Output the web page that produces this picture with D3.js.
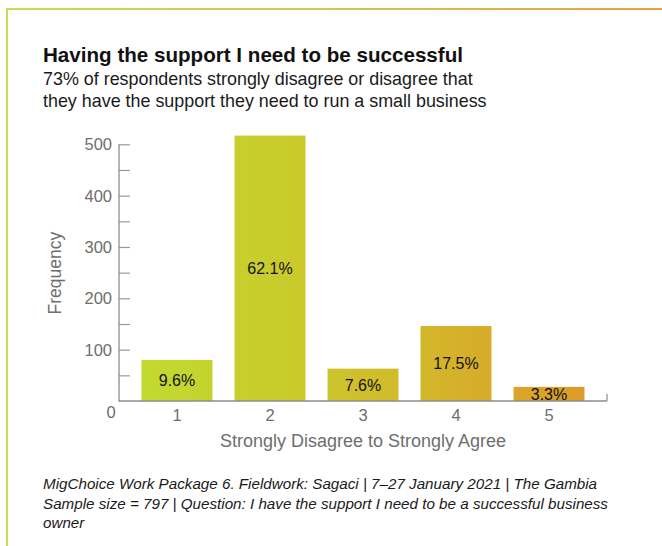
<!DOCTYPE html>
<html>
<head>
<meta charset="utf-8">
<script src="https://cdn.jsdelivr.net/npm/d3@7/dist/d3.min.js"></script>
<style>
  html, body { margin: 0; padding: 0; background: #fff; }
  svg { display: block; font-family: "Liberation Sans", Arial, Helvetica, sans-serif; }
</style>
</head>
<body>
<svg id="chart" width="662" height="546"></svg>
<script>
// Response scale (1 = strongly disagree ... 5 = strongly agree)
const categories = ["1", "2", "3", "4", "5"];
// Number of respondents per response
const frequencies = [80, 517, 63, 146, 27.5];
// Share of respondents per response, as printed on the bars
const shareLabels = ["9.6%", "62.1%", "7.6%", "17.5%", "3.3%"];
// Y axis ticks
const yTickValues = [0, 100, 200, 300, 400, 500];
const yMinorTickValues = [50, 150, 250, 350, 450];

const svg = d3.select("#chart");
const W = 662, H = 546;

const defs = svg.append("defs");

// Brand gradient for the frame (green to orange)
const frameGrad = defs.append("linearGradient")
  .attr("id", "frameGrad").attr("gradientUnits", "userSpaceOnUse")
  .attr("x1", 6).attr("x2", W).attr("y1", 0).attr("y2", 0);
frameGrad.append("stop").attr("offset", "0%").attr("stop-color", "#c6df52");
frameGrad.append("stop").attr("offset", "50%").attr("stop-color", "#d4c64a");
frameGrad.append("stop").attr("offset", "100%").attr("stop-color", "#e2a444");

// Gradient that runs across all bars
const barGrad = defs.append("linearGradient")
  .attr("id", "barGrad").attr("gradientUnits", "userSpaceOnUse")
  .attr("x1", 140).attr("x2", 588).attr("y1", 0).attr("y2", 0);
barGrad.append("stop").attr("offset", "0%").attr("stop-color", "#c1da30");
barGrad.append("stop").attr("offset", "30%").attr("stop-color", "#c9cc2c");
barGrad.append("stop").attr("offset", "60%").attr("stop-color", "#d2b92b");
barGrad.append("stop").attr("offset", "100%").attr("stop-color", "#de9a28");

// Frame: top rule and left rule
svg.append("rect").attr("x", 6).attr("y", 8).attr("width", W - 6).attr("height", 2)
  .attr("fill", "url(#frameGrad)");
svg.append("rect").attr("x", 6).attr("y", 8).attr("width", 2).attr("height", H - 8)
  .attr("fill", "#c6df52");

// Title block
svg.append("text").attr("x", 43).attr("y", 62)
  .attr("font-size", 20.6).attr("font-weight", "bold").attr("fill", "#111")
  .text("Having the support I need to be successful");
const sub = svg.append("text").attr("x", 43).attr("font-size", 17.9).attr("fill", "#1a1a1a");
sub.append("tspan").attr("x", 43).attr("y", 84.5)
  .text("73% of respondents strongly disagree or disagree that");
sub.append("tspan").attr("x", 43).attr("y", 106.5)
  .text("they have the support they need to run a small business");

// Plot geometry
const x0 = 119, x1 = 607, yBase = 401;
const y = d3.scaleLinear().domain([0, 500]).range([yBase, 144.3]);
const x = d3.scaleBand().domain(categories)
  .range([130.5, 595.5]).paddingInner(0.237).paddingOuter(0.1185);

const axisColor = "#8c8c8c";
const labelColor = "#6e6e6e";

// Bars
const g = svg.append("g");
g.selectAll("rect.bar").data(categories).join("rect")
  .attr("class", "bar")
  .attr("x", d => x(d))
  .attr("width", x.bandwidth())
  .attr("y", (d, i) => y(frequencies[i]))
  .attr("height", (d, i) => yBase - y(frequencies[i]))
  .attr("fill", "url(#barGrad)");

// Value labels centred inside bars
g.selectAll("text.val").data(categories).join("text")
  .attr("class", "val")
  .attr("x", d => x(d) + x.bandwidth() / 2)
  .attr("y", (d, i) => (y(frequencies[i]) + yBase) / 2)
  .attr("dy", "0.36em")
  .attr("text-anchor", "middle")
  .attr("font-size", 16).attr("fill", "#111")
  .text((d, i) => shareLabels[i]);

// Y axis: ticks point inward toward the plot
const yAxis = d3.axisRight(y).tickValues(yTickValues.filter(v => v > 0))
  .tickSize(11).tickFormat("");
const yAx = svg.append("g").attr("transform", `translate(${x0},0)`).call(yAxis);
yAx.select(".domain").remove();
yAx.selectAll(".tick line").attr("stroke", "#9a9a9a").attr("stroke-width", 1.2);
const yMinor = d3.axisRight(y).tickValues(yMinorTickValues).tickSize(11).tickFormat("");
const yMin = svg.append("g").attr("transform", `translate(${x0},0)`).call(yMinor);
yMin.select(".domain").remove();
yMin.selectAll(".tick line").attr("stroke", "#9a9a9a").attr("stroke-width", 1.2);

// Y axis line
svg.append("line").attr("x1", x0).attr("x2", x0)
  .attr("y1", y(500)).attr("y2", yBase + 0.5)
  .attr("stroke", axisColor).attr("stroke-width", 1.3);

// Y tick labels
svg.append("g").selectAll("text").data(yTickValues.filter(v => v > 0)).join("text")
  .attr("x", 112).attr("y", d => y(d)).attr("dy", "0.36em")
  .attr("text-anchor", "end").attr("font-size", 16.5).attr("fill", labelColor)
  .text(d => d);
svg.append("text").attr("x", 111).attr("y", 418)
  .attr("text-anchor", "middle").attr("font-size", 16.5).attr("fill", labelColor)
  .text(yTickValues[0]);

// X axis line with end tick
svg.append("line").attr("x1", x0).attr("x2", x1).attr("y1", yBase).attr("y2", yBase)
  .attr("stroke", axisColor).attr("stroke-width", 1.5);
svg.append("line").attr("x1", x1).attr("x2", x1).attr("y1", yBase).attr("y2", yBase - 7)
  .attr("stroke", axisColor).attr("stroke-width", 1.2);

// X tick labels
svg.append("g").selectAll("text").data(categories).join("text")
  .attr("x", d => x(d) + x.bandwidth() / 2).attr("y", 421)
  .attr("text-anchor", "middle").attr("font-size", 16.5).attr("fill", labelColor)
  .text(d => d);

// Axis titles
svg.append("text").attr("x", (x(categories[0]) + x(categories[4]) + x.bandwidth()) / 2).attr("y", 447)
  .attr("text-anchor", "middle").attr("font-size", 18).attr("fill", labelColor)
  .text("Strongly Disagree to Strongly Agree");
svg.append("text")
  .attr("transform", `translate(61,${(y(500) + yBase) / 2 + 0.5}) rotate(-90)`)
  .attr("text-anchor", "middle").attr("font-size", 17.5).attr("fill", labelColor)
  .text("Frequency");

// Source note
const note = svg.append("text").attr("font-size", 15.2).attr("font-style", "italic").attr("fill", "#1a1a1a");
[
  "MigChoice Work Package 6. Fieldwork: Sagaci | 7–27 January 2021 | The Gambia",
  "Sample size = 797 | Question: I have the support I need to be a successful business",
  "owner"
].forEach((line, i) => {
  note.append("tspan").attr("x", 43).attr("y", 489 + i * 19.5).text(line);
});
</script>
</body>
</html>
